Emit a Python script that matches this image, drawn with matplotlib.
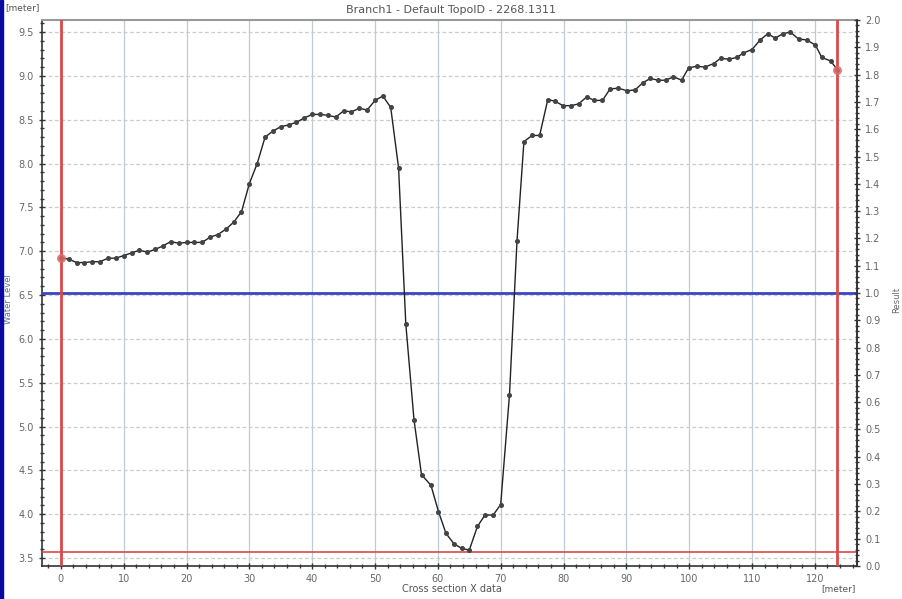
import matplotlib
matplotlib.use("Agg")
import matplotlib.pyplot as plt
from matplotlib.ticker import MultipleLocator, FormatStrFormatter
from matplotlib.patches import Rectangle

# ---- data ----
chainage = [0.0, 1.25, 2.5, 3.75, 5.0, 6.25, 7.5, 8.75, 10.0, 11.25,
            12.5, 13.75, 15.0, 16.25, 17.5, 18.75, 20.0, 21.25, 22.5, 23.75,
            25.0, 26.25, 27.5, 28.75, 30.0, 31.25, 32.5, 33.75, 35.0, 36.25,
            37.5, 38.75, 40.0, 41.25, 42.5, 43.75, 45.0, 46.25, 47.5, 48.75,
            50.0, 51.25, 52.5, 53.75, 54.9, 56.2, 57.4, 58.9, 60.1, 61.3,
            62.6, 63.8, 65.0, 66.3, 67.5, 68.8, 70.0, 71.4, 72.6, 73.7,
            75.0, 76.2, 77.5, 78.7, 79.9, 81.2, 82.4, 83.7, 84.9, 86.2,
            87.4, 88.7, 90.1, 91.4, 92.6, 93.8, 95.1, 96.3, 97.5, 98.8,
            99.9, 101.2, 102.5, 103.9, 105.0, 106.3, 107.6, 108.6, 110.0, 111.3,
            112.5, 113.7, 114.9, 116.1, 117.4, 118.7, 120.1, 121.1, 122.5, 123.6]
bed_level = [6.92, 6.91, 6.87, 6.87, 6.88, 6.88, 6.92, 6.92, 6.95, 6.98,
             7.01, 6.99, 7.02, 7.06, 7.11, 7.09, 7.10, 7.10, 7.10, 7.16,
             7.19, 7.25, 7.33, 7.45, 7.77, 8.00, 8.30, 8.37, 8.42, 8.44,
             8.47, 8.52, 8.56, 8.56, 8.55, 8.53, 8.60, 8.59, 8.63, 8.61,
             8.72, 8.77, 8.64, 7.95, 6.17, 5.08, 4.45, 4.33, 4.03, 3.78,
             3.66, 3.61, 3.59, 3.86, 3.99, 3.99, 4.11, 5.36, 7.12, 8.25,
             8.32, 8.32, 8.73, 8.71, 8.66, 8.66, 8.68, 8.76, 8.72, 8.72,
             8.85, 8.86, 8.83, 8.84, 8.92, 8.97, 8.95, 8.95, 8.99, 8.95,
             9.09, 9.11, 9.10, 9.14, 9.20, 9.19, 9.21, 9.26, 9.30, 9.41,
             9.48, 9.43, 9.48, 9.50, 9.42, 9.41, 9.35, 9.21, 9.17, 9.07]
water_level = 6.52
bottom_marker = 3.57
marker_x = [0.0, 123.6]
title = "Branch1 - Default TopoID - 2268.1311"

fig = plt.figure(figsize=(9.03, 5.99), dpi=100)
fig.patch.set_facecolor("white")
fig.add_artist(Rectangle((0, 0), 0.0035, 1, transform=fig.transFigure,
                         color="#0a0aa0", zorder=10))

ax = fig.add_axes([0.0465, 0.0551, 0.9025, 0.9115])
ax.set_xlim(-3.0, 126.7)
ax.set_ylim(3.409, 9.637)

# grid
for xv in range(0, 121, 10):
    ax.axvline(xv, color="#bccbd6", lw=0.9, zorder=1)
for yv in [3.5, 4.0, 4.5, 5.0, 5.5, 6.0, 6.5, 7.0, 7.5, 8.0, 8.5, 9.0, 9.5]:
    ax.axhline(yv, color="#cccccc", lw=0.9, ls=(0, (3, 2)), zorder=1)

# reference lines
ax.axhline(water_level, color="#3a44c4", lw=2.0, zorder=3)
ax.axhline(bottom_marker, color="#d84a4a", lw=1.2, zorder=3)
for mx in marker_x:
    ax.axvline(mx, color="#d84a4a", lw=2.0, zorder=3)

ax.plot(chainage, bed_level, color="#222222", lw=1.0, marker="o",
        markersize=2.6, markerfacecolor="#444444", markeredgecolor="#444444",
        zorder=4)
ax.plot([chainage[0], chainage[-1]], [bed_level[0], bed_level[-1]], ls="none",
        marker="o", markersize=5.5, color="#e06a6a", alpha=0.8, zorder=5)

ax.xaxis.set_major_locator(MultipleLocator(10))
ax.xaxis.set_minor_locator(MultipleLocator(2))
ax.yaxis.set_major_locator(MultipleLocator(0.5))
ax.yaxis.set_minor_locator(MultipleLocator(0.1))
ax.yaxis.set_major_formatter(FormatStrFormatter("%.1f"))

ax.tick_params(axis="both", which="major", labelsize=7, colors="#333333",
               labelcolor="#666666", direction="inout", length=5, width=1)
ax.tick_params(axis="both", which="minor", colors="#333333",
               direction="inout", length=3, width=1)
for s in ["left", "bottom", "right"]:
    ax.spines[s].set_color("#333333")
    ax.spines[s].set_linewidth(1.2)
ax.spines["top"].set_color("#999999")
ax.spines["top"].set_linewidth(1.5)

ax2 = ax.twinx()
ax2.set_ylim(0.0, 2.0)
ax2.yaxis.set_major_locator(MultipleLocator(0.1))
ax2.yaxis.set_minor_locator(MultipleLocator(0.02))
ax2.yaxis.set_major_formatter(FormatStrFormatter("%.1f"))
ax2.tick_params(axis="y", which="major", labelsize=7, colors="#333333",
                labelcolor="#666666", direction="inout", length=5, width=1)
ax2.tick_params(axis="y", which="minor", colors="#333333",
                direction="inout", length=3, width=1)
ax2.spines["right"].set_color("#333333")
ax2.spines["right"].set_linewidth(1.2)
for s in ["left", "top", "bottom"]:
    ax2.spines[s].set_visible(False)

# texts
fig.text(0.5, 0.984, title, ha="center", va="center", fontsize=8, color="#555555")
fig.text(0.006, 0.988, "[meter]", ha="left", va="center", fontsize=6.5, color="#555555")
fig.text(0.5, 0.017, "Cross section X data", ha="center", va="center",
         fontsize=7, color="#555555")
fig.text(0.948, 0.017, "[meter]", ha="right", va="center", fontsize=6.5, color="#555555")
fig.text(0.009, 0.5, "Water Level", ha="center", va="center", rotation=90,
         fontsize=6, color="#5a6ea0")
fig.text(0.993, 0.5, "Result", ha="center", va="center", rotation=90,
         fontsize=6, color="#666666")

fig.savefig("out.png", dpi=100, facecolor="white")
